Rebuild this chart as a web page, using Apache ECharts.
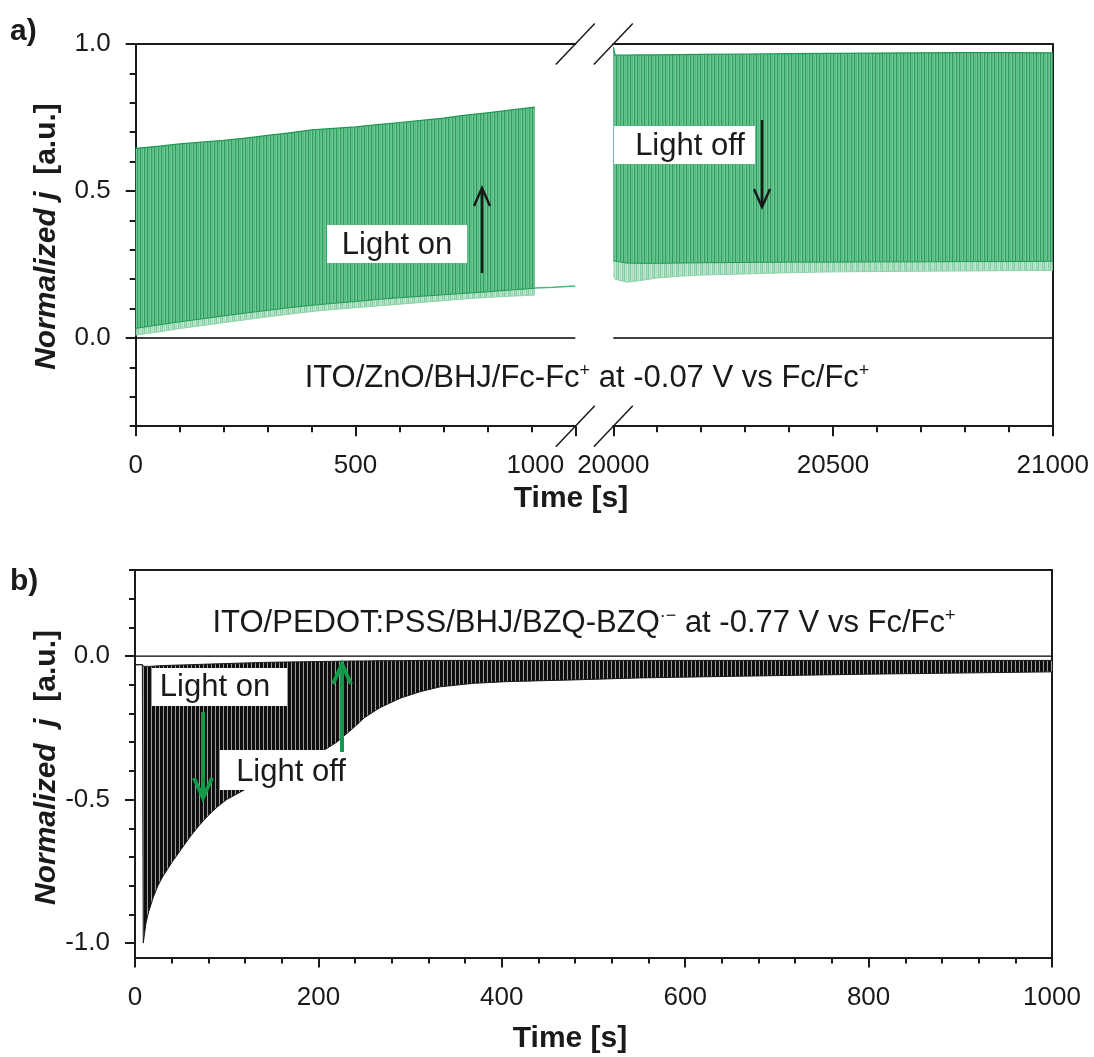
<!DOCTYPE html>
<html>
<head>
<meta charset="utf-8">
<script src="https://cdn.jsdelivr.net/npm/echarts@6/dist/echarts.min.js"></script>
<style>
  html, body { margin: 0; padding: 0; background: #ffffff; }
  #chart { width: 1094px; height: 1057px; }
</style>
</head>
<body>
<div id="chart"></div>
<script>
// ---------------------------------------------------------------
// Panel a) ITO/ZnO/BHJ/Fc-Fc+ at -0.07 V, chopped illumination
// first window: 0 – 1000 s (envelopes of the light/dark cycles)
const timeA1  = [0, 50, 100, 150, 200, 250, 300, 350, 400, 450, 500, 550, 600, 650, 700, 750, 800, 850, 908];
const upperA1 = [0.645, 0.652, 0.660, 0.666, 0.672, 0.680, 0.689, 0.698, 0.708, 0.713, 0.718, 0.726, 0.733, 0.740, 0.748, 0.758, 0.766, 0.775, 0.785];
const lowerA1 = [0.033, 0.044, 0.055, 0.065, 0.075, 0.085, 0.094, 0.103, 0.111, 0.118, 0.124, 0.131, 0.137, 0.142, 0.147, 0.152, 0.157, 0.163, 0.169];
const floorA1 = [0.010, 0.020, 0.032, 0.042, 0.052, 0.062, 0.072, 0.081, 0.090, 0.097, 0.103, 0.109, 0.115, 0.121, 0.127, 0.133, 0.138, 0.142, 0.146];
// dark current after the last light pulse
const darkTimeA1 = [908, 950, 1000];
const darkA1     = [0.170, 0.173, 0.177];

// second window: 20000 – 21000 s
const timeA2  = [20000, 20004, 20030, 20060, 20100, 20150, 20200, 20300, 20400, 20500, 20600, 20700, 20800, 20900, 21000];
const upperA2 = [0.990, 0.962, 0.962, 0.963, 0.963, 0.964, 0.965, 0.966, 0.967, 0.968, 0.969, 0.970, 0.971, 0.971, 0.970];
const lowerA2 = [0.262, 0.262, 0.255, 0.254, 0.254, 0.255, 0.256, 0.257, 0.258, 0.258, 0.259, 0.259, 0.260, 0.260, 0.261];
const floorA2 = [0.220, 0.200, 0.190, 0.195, 0.204, 0.210, 0.214, 0.218, 0.222, 0.225, 0.226, 0.227, 0.228, 0.229, 0.230];

// ---------------------------------------------------------------
// Panel b) ITO/PEDOT:PSS/BHJ/BZQ-BZQ·- at -0.77 V, 0 – 1000 s
const timeB  = [0, 8, 9, 12, 15, 20, 25, 30, 40, 50, 60, 70, 80, 90, 100, 120, 140, 160, 180, 200, 220, 240, 250, 267, 289, 311, 333, 369, 405, 478, 551, 660, 800, 1000];
const upperB = [-0.030, -0.030, -0.035, -0.036, -0.036, -0.035, -0.034, -0.033, -0.032, -0.031, -0.030, -0.029, -0.028, -0.027, -0.026, -0.024, -0.022, -0.021, -0.020, -0.019, -0.018, -0.017, -0.017, -0.016, -0.016, -0.015, -0.015, -0.015, -0.015, -0.015, -0.015, -0.015, -0.015, -0.015];
const lowerB = [-0.030, -0.030, -1.000, -0.930, -0.890, -0.840, -0.800, -0.770, -0.720, -0.675, -0.630, -0.590, -0.555, -0.525, -0.500, -0.465, -0.435, -0.405, -0.375, -0.340, -0.300, -0.245, -0.215, -0.180, -0.147, -0.124, -0.107, -0.095, -0.089, -0.083, -0.076, -0.070, -0.063, -0.055];

// tick values
const majorTicksA = [0, 0.5, 1.0];
const minorTicksA = [-0.3, -0.2, -0.1, 0, 0.1, 0.2, 0.3, 0.4, 0.5, 0.6, 0.7, 0.8, 0.9, 1.0];
const majorTicksB = [-1.0, -0.5, 0];
const minorTicksB = [-1.0, -0.9, -0.8, -0.7, -0.6, -0.5, -0.4, -0.3, -0.2, -0.1, 0, 0.1, 0.2, 0.3];

// ---------------------------------------------------------------
const FONT = '"Liberation Sans", Arial, Helvetica, sans-serif';
const INK = '#1a1a1a';
const GREEN_LINE = '#1e9852';
const ARROW_GREEN = '#119a4a';

// vertical-stripe textures that stand in for the dense on/off switching
function stripes(cols) {
  const c = document.createElement('canvas');
  c.width = cols.length; c.height = 4;
  const ctx = c.getContext('2d');
  cols.forEach((col, i) => { ctx.fillStyle = col; ctx.fillRect(i, 0, 1, 4); });
  return c;
}
const pulseTex = stripes(['#2a9c5b', '#62c08a', '#58ba81', '#72c797', '#33a264', '#5ebd86', '#6cc492']);
const dipTex   = stripes(['#7fcd9f', '#b8e4c9', '#a6dcbb', '#c5e9d3', '#86cfa4', '#b0e0c3']);
const spikeTex = stripes(['#0e0e0e', '#0e0e0e', '#141414', '#9c9c9c']);

// band between a lower and an upper envelope, drawn through the axis scales
function bandSeries(name, xi, yi, t, lo, hi, fill, edges) {
  return {
    type: 'custom', name, xAxisIndex: xi, yAxisIndex: yi,
    silent: true, animation: false, clip: true,
    data: t.map((x, i) => [x, lo[i], hi[i]]),
    encode: { x: 0, y: [1, 2] },
    renderItem(params, api) {
      if (params.dataIndex !== 0) return;
      const top = t.map((x, i) => api.coord([x, hi[i]]));
      const bot = t.map((x, i) => api.coord([x, lo[i]]));
      const children = [{
        type: 'polygon',
        shape: { points: top.concat(bot.slice().reverse()) },
        style: { fill, stroke: null }
      }];
      edges.forEach(e => children.push({
        type: 'polyline',
        shape: { points: e.side === 'hi' ? top : bot },
        style: { stroke: e.color, lineWidth: e.width, fill: null }
      }));
      return { type: 'group', children };
    }
  };
}
function plainLine(name, xi, yi, data, color, width) {
  return {
    type: 'line', name, xAxisIndex: xi, yAxisIndex: yi, data,
    symbol: 'none', showSymbol: false, silent: true, animation: false,
    emphasis: { disabled: true }, lineStyle: { color, width }
  };
}
const pairs = (t, v) => t.map((x, i) => [x, v[i]]);

const axisLine = { show: true, onZero: false, lineStyle: { color: INK, width: 2 } };
const tickStyle = { color: INK, width: 2 };
const labelStyle = { fontSize: 26, fontFamily: FONT, color: INK };

function bottomX(grid, min, max, interval, extraLabel) {
  return {
    gridIndex: grid, type: 'value', position: 'bottom', min, max, interval,
    axisLine, splitLine: { show: false },
    axisTick: { show: true, length: 10, lineStyle: tickStyle },
    minorTick: { show: true, splitNumber: 5, length: 6, lineStyle: tickStyle },
    axisLabel: Object.assign({ show: true, margin: 27, formatter: v => String(v) }, labelStyle, extraLabel || {})
  };
}
function borderX(grid, min, max) {
  return {
    gridIndex: grid, type: 'value', position: 'top', min, max,
    axisLine, axisTick: { show: false }, axisLabel: { show: false }, splitLine: { show: false }
  };
}
function mainY(grid, min, max, ticks) {
  return {
    gridIndex: grid, type: 'value', position: 'left', min, max,
    axisLine, splitLine: { show: false },
    axisTick: { show: true, length: 10, lineStyle: tickStyle, customValues: ticks },
    axisLabel: Object.assign({ show: true, margin: 25, customValues: ticks,
      formatter: v => (Math.abs(v) < 1e-9 ? 0 : v).toFixed(1) }, labelStyle)
  };
}
function minorY(grid, min, max, ticks) {
  return {
    gridIndex: grid, type: 'value', position: 'left', min, max,
    axisLine: { show: false }, splitLine: { show: false }, axisLabel: { show: false },
    axisTick: { show: true, length: 6, lineStyle: tickStyle, customValues: ticks }
  };
}
function borderY(grid, min, max) {
  return {
    gridIndex: grid, type: 'value', position: 'right', min, max,
    axisLine, axisTick: { show: false }, axisLabel: { show: false }, splitLine: { show: false }
  };
}

const chart = echarts.init(document.getElementById('chart'), null, { renderer: 'canvas', width: 1094, height: 1057 });

chart.setOption({
  backgroundColor: '#ffffff',
  animation: false,
  grid: [
    { left: 135.7, top: 44, width: 439.6, height: 382.2 },   // a) 0 – 1000 s
    { left: 613.3, top: 44, width: 439.4, height: 382.2 },   // a) 20000 – 21000 s
    { left: 135, top: 570, width: 917, height: 387.4 }       // b)
  ],
  xAxis: [
    bottomX(0, 0, 1000, 500, {
      formatter: v => (v === 1000 ? '{s|1000}' : String(v)),
      rich: { s: { fontSize: 26, fontFamily: FONT, color: INK, padding: [0, 80, 0, 0] } }
    }),
    borderX(0, 0, 1000),
    bottomX(1, 20000, 21000, 500),
    borderX(1, 20000, 21000),
    bottomX(2, 0, 1000, 200),
    borderX(2, 0, 1000)
  ],
  yAxis: [
    mainY(0, -0.3, 1.0, majorTicksA),
    minorY(0, -0.3, 1.0, minorTicksA),
    borderY(1, -0.3, 1.0),
    mainY(2, -1.05, 0.3, majorTicksB),
    minorY(2, -1.05, 0.3, minorTicksB),
    borderY(2, -1.05, 0.3)
  ],
  series: [
    // zero reference lines
    plainLine('a1 zero', 0, 0, [[0, 0], [1000, 0]], '#000000', 1.4),
    plainLine('a2 zero', 2, 2, [[20000, 0], [21000, 0]], '#000000', 1.4),
    plainLine('b zero', 4, 3, [[0, 0], [1000, 0]], '#000000', 1.2),
    // a) first window
    bandSeries('a1 dips', 0, 0, timeA1, floorA1, lowerA1, { image: dipTex, repeat: 'repeat' },
      [{ side: 'lo', color: '#8fd3ab', width: 1 }]),
    bandSeries('a1 pulses', 0, 0, timeA1, lowerA1, upperA1, { image: pulseTex, repeat: 'repeat' },
      [{ side: 'lo', color: GREEN_LINE, width: 1 }, { side: 'hi', color: GREEN_LINE, width: 1.2 }]),
    plainLine('a1 dark', 0, 0, pairs(darkTimeA1, darkA1), '#4cb67c', 1.5),
    // a) second window
    bandSeries('a2 dips', 2, 2, timeA2, floorA2, lowerA2, { image: dipTex, repeat: 'repeat' },
      [{ side: 'lo', color: '#8fd3ab', width: 1 }]),
    bandSeries('a2 pulses', 2, 2, timeA2, lowerA2, upperA2, { image: pulseTex, repeat: 'repeat' },
      [{ side: 'lo', color: GREEN_LINE, width: 1 }, { side: 'hi', color: GREEN_LINE, width: 1.2 }]),
    // b)
    bandSeries('b spikes', 4, 3, timeB, lowerB, upperB, { image: spikeTex, repeat: 'repeat' },
      [{ side: 'lo', color: INK, width: 1 }, { side: 'hi', color: INK, width: 1 }])
  ]
});

// ---------------------------------------------------------------
// annotations, axis titles and axis-break marks
function text(x, y, str, font, opts) {
  return Object.assign({
    type: 'text', x, y, z: 100, silent: true,
    style: Object.assign({ text: str, font, fill: INK, align: 'center', verticalAlign: 'middle' }, (opts && opts.style) || {})
  }, opts && opts.rotation != null ? { rotation: opts.rotation } : {});
}
function box(x, y, w, h) {
  return { type: 'rect', z: 99, silent: true, shape: { x, y, width: w, height: h }, style: { fill: '#ffffff' } };
}
function arrow(x, yTail, yTip, color, width, wing, depth) {
  const dir = yTip < yTail ? 1 : -1;
  return {
    type: 'group', z: 100, silent: true,
    children: [
      { type: 'line', z: 100, shape: { x1: x, y1: yTail, x2: x, y2: yTip + dir * 1 },
        style: { stroke: color, lineWidth: width } },
      { type: 'polyline', z: 100,
        shape: { points: [[x - wing, yTip + dir * depth], [x, yTip], [x + wing, yTip + dir * depth]] },
        style: { stroke: color, lineWidth: width, fill: null, lineJoin: 'miter' } }
    ]
  };
}
function slash(cx, cy) {
  return { type: 'line', z: 101, silent: true,
    shape: { x1: cx - 19.5, y1: cy + 20.5, x2: cx + 19.5, y2: cy - 20.5 },
    style: { stroke: INK, lineWidth: 1.5 } };
}

const REG = '31px ' + FONT;
const BOLD = 'bold 30px ' + FONT;
const richNote = {
  n: { fontSize: 31, fontFamily: FONT, fill: INK },
  s: { fontSize: 18, fontFamily: FONT, fill: INK, verticalAlign: 'top' }
};
const richYName = {
  i: { fontSize: 30, fontFamily: FONT, fontWeight: 'bold', fontStyle: 'italic', fill: INK },
  n: { fontSize: 30, fontFamily: FONT, fontWeight: 'bold', fill: INK }
};

const aLeft = chart.convertToPixel({ gridIndex: 0 }, [1000, 0]);
const aRight = chart.convertToPixel({ gridIndex: 1 }, [20000, 0]);
const aTop = chart.convertToPixel({ gridIndex: 0 }, [0, 1.0])[1];
const aBottom = chart.convertToPixel({ gridIndex: 0 }, [0, -0.3])[1];

chart.setOption({
  graphic: [
    // panel letters
    text(10, 32, 'a)', BOLD, { style: { align: 'left' } }),
    text(10, 582, 'b)', BOLD, { style: { align: 'left' } }),
    // axis titles
    text(571, 499, 'Time [s]', BOLD),
    text(570, 1039, 'Time [s]', BOLD),
    text(47, 236.5, '', BOLD, { rotation: Math.PI / 2,
      style: { text: '{i|Normalized j}{n|  [a.u.]}', rich: richYName } }),
    text(47, 767.5, '', BOLD, { rotation: Math.PI / 2,
      style: { text: '{i|Normalized  j}{n|  [a.u.]}', rich: richYName } }),
    // sample descriptions
    text(587, 378, '', REG, { style: { text: '{n|ITO/ZnO/BHJ/Fc-Fc}{s|+}{n| at -0.07 V vs Fc/Fc}{s|+}', rich: richNote } }),
    text(584, 623, '', REG, { style: { text: '{n|ITO/PEDOT:PSS/BHJ/BZQ-BZQ}{s|·\u2212}{n| at -0.77 V vs Fc/Fc}{s|+}', rich: richNote } }),
    // panel a light on / off
    box(327, 225, 140, 38),
    text(397, 245, 'Light on', REG),
    arrow(482, 273, 188, INK, 2.5, 8, 18),
    box(614, 126, 141, 38),
    text(690, 146, 'Light off', REG),
    arrow(762, 120, 207, INK, 2.5, 8, 18),
    // panel b light on / off
    box(152, 668, 135, 38),
    text(215, 687, 'Light on', REG),
    arrow(203, 712, 798, ARROW_GREEN, 4, 9, 20),
    box(220, 750, 132, 40),
    text(291, 772, 'Light off', REG),
    arrow(342, 752, 664, ARROW_GREEN, 4, 9, 20),
    // axis break marks
    slash(aLeft[0], aTop), slash(aRight[0], aTop),
    slash(aLeft[0], aBottom), slash(aRight[0], aBottom)
  ]
});
</script>
</body>
</html>
